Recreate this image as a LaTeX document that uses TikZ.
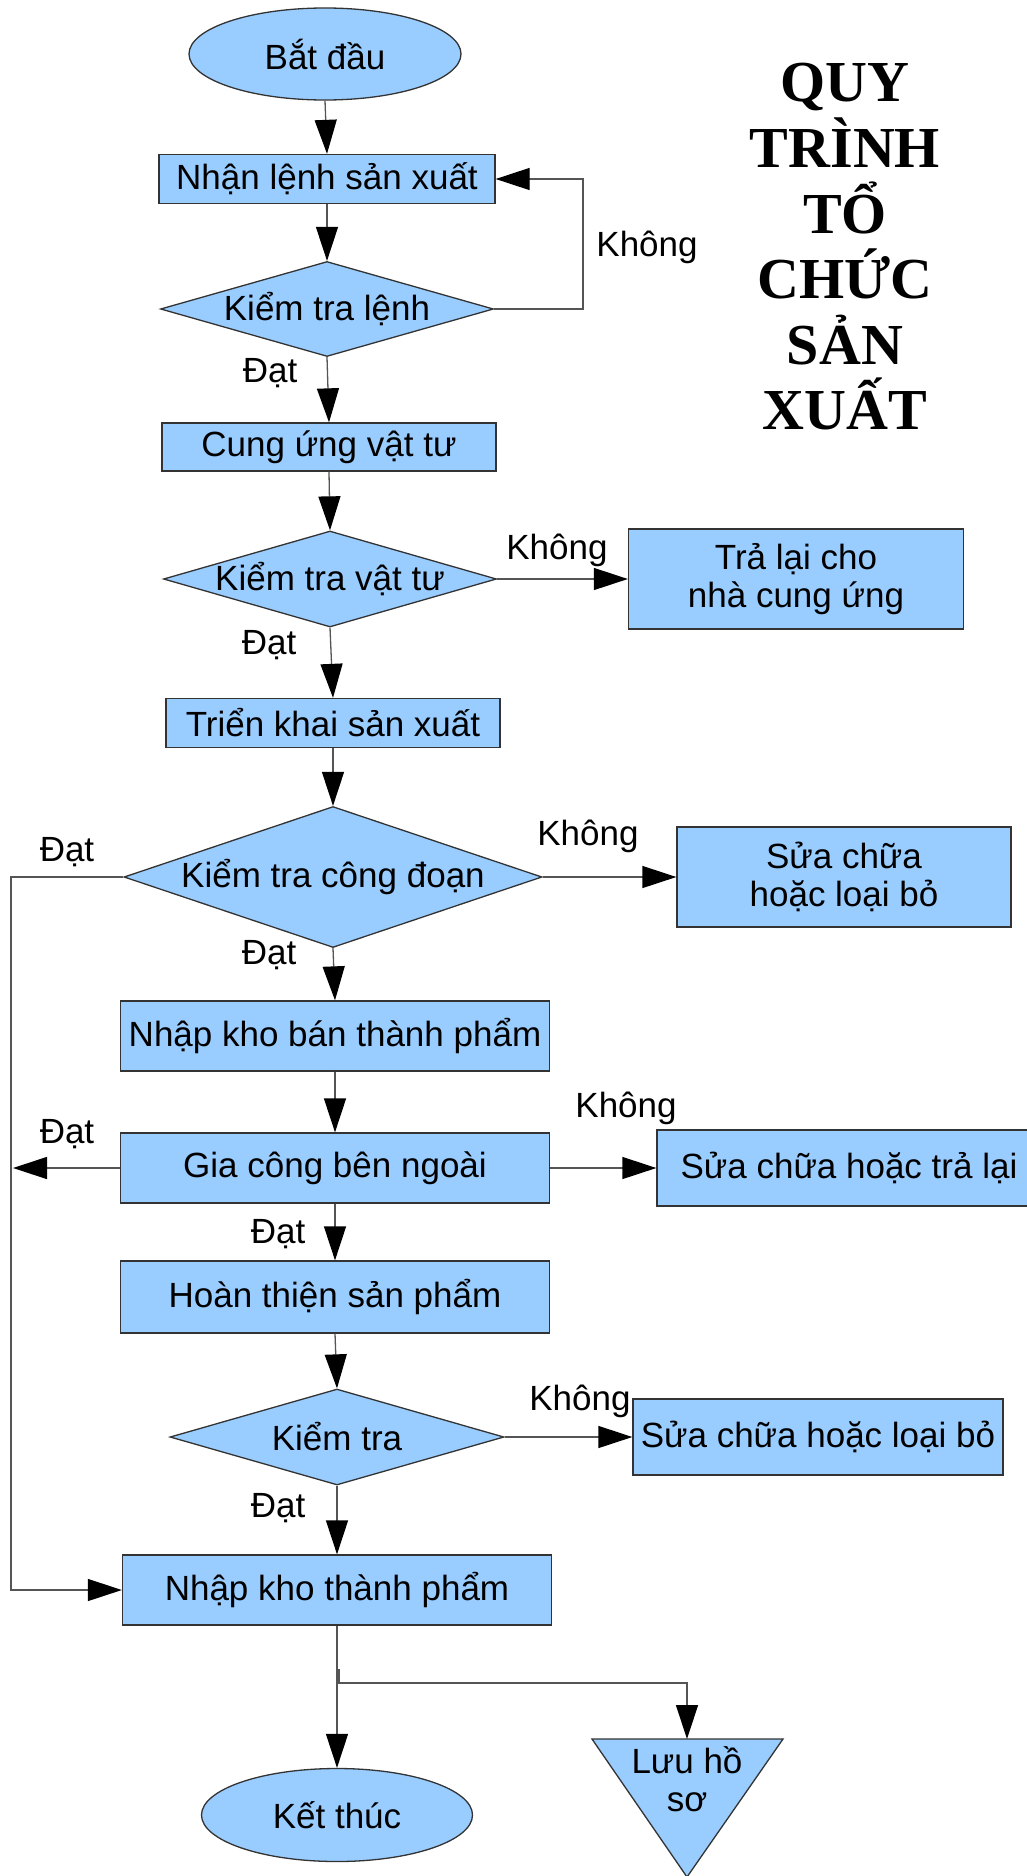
\documentclass[tikz,border=0pt]{standalone}
\usepackage{fontspec}
\setmainfont{Liberation Sans}
\newfontfamily\titlefont{Liberation Serif}
\usepackage{tikz}
\usetikzlibrary{arrows.meta}
\usetikzlibrary{shapes.geometric}
\definecolor{mblue}{HTML}{99CCFF}
\definecolor{mborder}{HTML}{333333}
\definecolor{mline}{HTML}{555555}
\tikzset{shp/.style = {draw = mborder, fill = mblue, line width = 1.3pt, inner sep = 0pt, align = center, font = \fontsize{35}{38}\selectfont}}
\tikzset{rbox/.style = {shp, rectangle}}
\tikzset{dbox/.style = {shp, diamond, inner sep = -12pt}}
\tikzset{ebox/.style = {shp, ellipse}}
\tikzset{arr/.style = {draw = mline, line width = 1.3pt, -{Triangle[length = 34pt, width = 22pt, color = black]}}}
\tikzset{lbl/.style = {inner sep = 0pt, align = center, font = \fontsize{35}{38}\selectfont}}
\tikzset{ttl/.style = {inner sep = 0pt, align = center, font = \titlefont\bfseries\fontsize{58}{65.6}\selectfont}}

\begin{document}
\begin{tikzpicture}[x = 1pt, y = -1pt]
          \useasboundingbox (0, 0) rectangle (1026, 1876);
          \node [ttl] (title) at (845, 247) {QUY\\TRÌNH\\TỔ\\CHỨC\\SẢN\\XUẤT};
          % main column
          \node [ebox, minimum width = 272, minimum height = 92] (start) at (325, 54) {Bắt đầu};
          \node [rbox, minimum width = 336, minimum height = 49] (order) at (327, 179) {Nhận lệnh sản xuất};
          \node [dbox, aspect = 3.5, minimum width = 333, minimum height = 95] (chkorder) at (327, 309) {Kiểm tra lệnh};
          \node [rbox, minimum width = 334, minimum height = 48] (supply) at (329, 447) {Cung ứng vật tư};
          \node [dbox, aspect = 3.47, minimum width = 333, minimum height = 96] (chksupply) at (330, 579) {Kiểm tra vật tư};
          \node [rbox, minimum width = 334, minimum height = 49] (deploy) at (333, 723) {Triển khai sản xuất};
          \node [dbox, aspect = 2.96, minimum width = 418, minimum height = 141] (chkstage) at (333, 877) {Kiểm tra công đoạn};
          \node [rbox, minimum width = 429, minimum height = 70] (semi) at (335, 1036) {Nhập kho bán thành phẩm};
          \node [rbox, minimum width = 429, minimum height = 70] (outsrc) at (335, 1168) {Gia công bên ngoài};
          \node [rbox, minimum width = 429, minimum height = 72] (finish) at (335, 1297) {Hoàn thiện sản phẩm};
          \node [dbox, aspect = 3.48, minimum width = 334, minimum height = 96] (chk) at (337, 1437) {Kiểm tra};
          \node [rbox, minimum width = 429, minimum height = 70] (store) at (337, 1590) {Nhập kho thành phẩm};
          \node [ebox, minimum width = 271, minimum height = 93] (stop) at (337, 1815) {Kết thúc};
          % side boxes
          \node [rbox, minimum width = 335, minimum height = 100] (ret) at (796, 579) {Trả lại cho\\nhà cung ứng};
          \node [rbox, minimum width = 334, minimum height = 100] (fix1) at (844, 877) {Sửa chữa\\hoặc loại bỏ};
          \node [rbox, minimum width = 384, minimum height = 76] (fix2) at (849, 1168) {Sửa chữa hoặc trả lại};
          \node [rbox, minimum width = 370, minimum height = 76] (fix3) at (818, 1437) {Sửa chữa hoặc loại bỏ};
          \draw [shp] (592, 1739) -- (783, 1739) -- (687, 1877) -- cycle;
          \node [lbl] (archive) at (687, 1779) {Lưu hồ\\sơ};
          \coordinate (archivetop) at (687, 1739);
          % connectors
          \foreach \a/\b in {start/order, order/chkorder, chkorder/supply, supply/chksupply, chksupply/deploy, deploy/chkstage,
                             chkstage/semi, semi/outsrc, outsrc/finish, finish/chk, chk/store, store/stop} {
             \draw [arr] (\a.south) -- (\b.north);
          }
          \coordinate (loop) at (583, 179);
          \draw [arr] (chkorder.east) -| (loop) -- (order.east);
          \draw [arr] (chksupply.east) -- (ret.west);
          \draw [arr] (chkstage.east) -- (fix1.west);
          \draw [arr] (outsrc.east) -- (fix2.west);
          \draw [arr] (chk.east) -- (fix3.west);
          \coordinate (rail) at (11, 1590);
          \draw [arr] (chkstage.west) -| (rail) -- (store.west);
          \coordinate (outleft) at (13, 1168);
          \draw [arr] (outsrc.west) -- (outleft);
          \coordinate (split) at (339, 1669);
          \draw [arr] (split) -- ++(0, 14) -| (archivetop);
          % labels
          \foreach \x/\y [count = \i] in {270/373, 269/645, 67/852, 269/955, 67/1134, 278/1234, 278/1508} {
             \node [lbl] (dat\i) at (\x, \y) {Đạt};
          }
          \foreach \x/\y [count = \i] in {647/247, 557/550, 588/836, 626/1108, 580/1401} {
             \node [lbl] (khong\i) at (\x, \y) {Không};
          }
\end{tikzpicture}
\end{document}
